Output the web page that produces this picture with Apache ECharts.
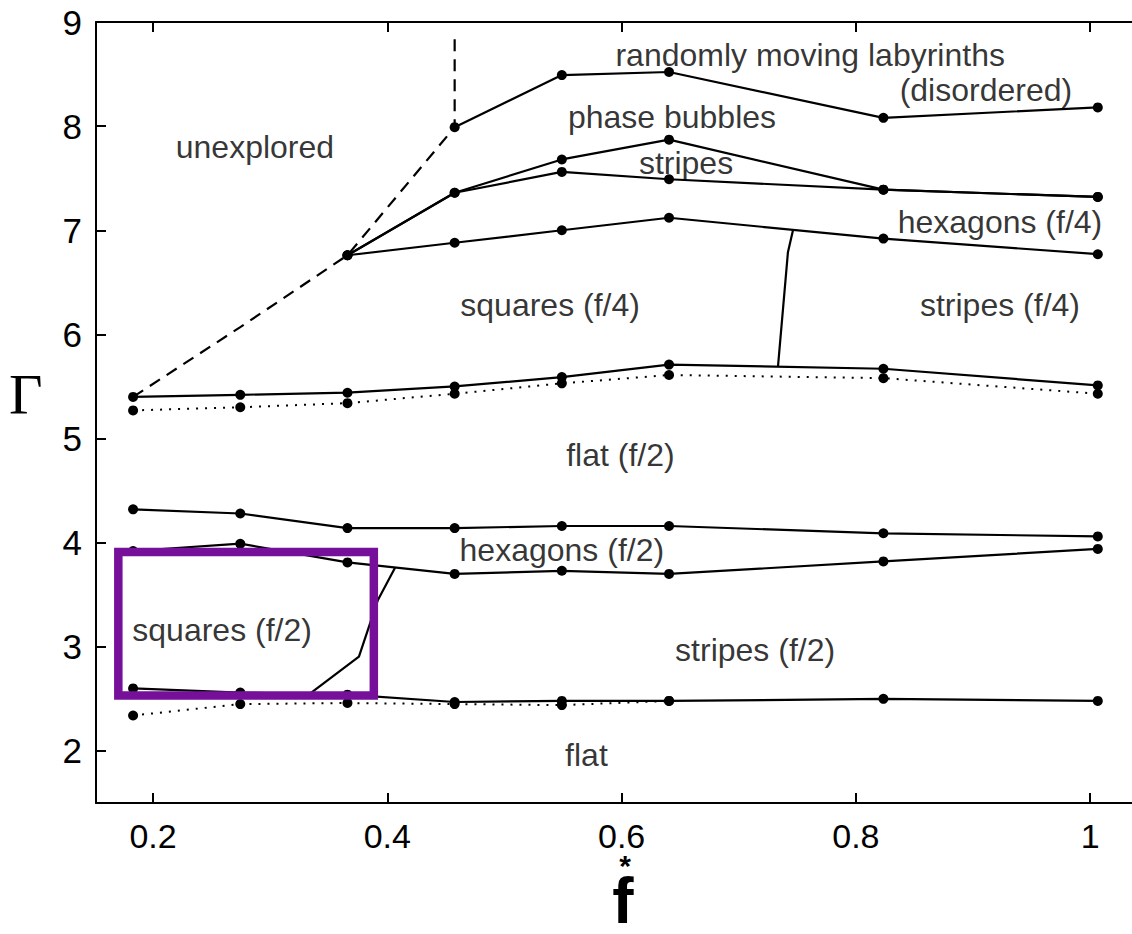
<!DOCTYPE html>
<html><head><meta charset="utf-8">
<script src="https://cdn.jsdelivr.net/npm/echarts@6/dist/echarts.min.js"></script>
<style>html,body{margin:0;padding:0;background:#fff}#c{width:1132px;height:934px}</style>
</head><body><div id="c"></div>
<script>
// ---- data ----
const xTicks = [0.2, 0.4, 0.6, 0.8, 1];
const yTicks = [2, 3, 4, 5, 6, 7, 8, 9];
const fStar = [0.183, 0.2745, 0.366, 0.4575, 0.549, 0.6405, 0.8235, 1.0065];
const fUpper = [0.366, 0.4575, 0.549, 0.6405, 0.8235, 1.0065];
const fLaby = [0.4575, 0.549, 0.6405, 0.8235, 1.0065];
const fFlatDot = [0.183, 0.2745, 0.366, 0.4575, 0.549, 0.6405];

const labyrinthY = [7.99, 8.49, 8.52, 8.08, 8.18];
const bubblesY = [6.76, 7.36, 7.68, 7.87, 7.39, 7.32];
const stripesLowY = [6.76, 7.36, 7.56, 7.49, 7.39, 7.32];
const hexF4LowY = [6.76, 6.88, 7.00, 7.12, 6.92, 6.77];
const squaresF4LowY = [5.40, 5.42, 5.44, 5.50, 5.59, 5.71, 5.67, 5.51];
const flatF2TopDotY = [5.27, 5.30, 5.34, 5.43, 5.53, 5.61, 5.58, 5.43];
const hexF2TopY = [4.32, 4.28, 4.14, 4.14, 4.16, 4.16, 4.09, 4.06];
const hexF2LowY = [3.92, 3.99, 3.81, 3.70, 3.73, 3.70, 3.82, 3.94];
const stripesF2LowY = [2.60, 2.56, 2.54, 2.47, 2.48, 2.48, 2.50, 2.48];
const flatTopDotY = [2.34, 2.45, 2.46, 2.45, 2.44, 2.48];

const unexploredX = [0.183, 0.2745, 0.366, 0.4575, 0.4575];
const unexploredY = [5.40, 6.07, 6.76, 7.99, 8.86];
const dividerF4X = [0.7463, 0.742, 0.7335];
const dividerF4Y = [7.00, 6.79, 5.69];
const dividerF2X = [0.4066, 0.392, 0.3758, 0.334];
const dividerF2Y = [3.76, 3.45, 2.905, 2.55];

const boxX = [0.1704, 0.3885, 0.3885, 0.1704, 0.1704];
const boxY = [3.91, 3.91, 2.532, 2.532, 3.91];

const regionNames = ['unexplored', 'randomly moving labyrinths', '(disordered)', 'phase bubbles', 'stripes',
  'hexagons (f/4)', 'squares (f/4)', 'stripes (f/4)', 'flat (f/2)', 'hexagons (f/2)', 'squares (f/2)',
  'stripes (f/2)', 'flat'];
const regionX = [0.287, 0.761, 0.911, 0.643, 0.655, 0.923, 0.539, 0.923, 0.599, 0.549, 0.259, 0.714, 0.570];
const regionY = [7.80, 8.683, 8.347, 8.088, 7.646, 7.079, 6.282, 6.282, 4.842, 3.93, 3.16, 2.97, 1.96];

// ---- build ----
const zip = (xs, ys) => xs.map((x, i) => [x, ys[i]]);
const FONT = 'Liberation Sans, Arial, Helvetica, sans-serif';

function solid(xs, ys) {
  return { type: 'line', data: zip(xs, ys), symbol: 'circle', symbolSize: 10,
    itemStyle: { color: '#000' }, lineStyle: { color: '#000', width: 2.2 }, z: 3, animation: false };
}
function dotted(xs, ys) {
  return { type: 'line', data: zip(xs, ys), symbol: 'circle', symbolSize: 10,
    itemStyle: { color: '#000' }, lineStyle: { color: '#000', width: 2, type: [2, 7] }, z: 2, animation: false };
}
function plain(xs, ys, type) {
  return { type: 'line', data: zip(xs, ys), symbol: 'none',
    lineStyle: { color: '#000', width: 2.2, type: type || 'solid' }, z: 2, animation: false };
}

const series = [
  plain(unexploredX, unexploredY, [12, 8]),
  solid(fLaby, labyrinthY),
  solid(fUpper, bubblesY),
  solid(fUpper, stripesLowY),
  solid(fUpper, hexF4LowY),
  solid(fStar, squaresF4LowY),
  dotted(fStar, flatF2TopDotY),
  solid(fStar, hexF2TopY),
  solid(fStar, hexF2LowY),
  solid(fStar, stripesF2LowY),
  dotted(fFlatDot, flatTopDotY),
  plain(dividerF4X, dividerF4Y),
  plain(dividerF2X, dividerF2Y),
  { type: 'scatter', symbolSize: 0, animation: false, z: 5,
    data: regionNames.map((n, i) => ({ name: n, value: [regionX[i], regionY[i]] })),
    label: { show: true, position: 'inside', formatter: '{b}', color: '#000', fontSize: 32, fontFamily: FONT } },
  { type: 'line', data: zip(boxX, boxY), symbol: 'none', z: 10, animation: false,
    lineStyle: { color: '#76109B', width: 8.5, join: 'miter', cap: 'square' } }
];

const xMin = 0.15134, xMax = 1.0357;
const chart = echarts.init(document.getElementById('c'), null, { renderer: 'svg' });
chart.setOption({
  backgroundColor: '#fff',
  animation: false,
  grid: { left: 96, top: 22, right: 0, bottom: 131, containLabel: false },
  xAxis: [
    { type: 'value', min: xMin, max: xMax, position: 'bottom',
      axisLine: { show: true, lineStyle: { color: '#000', width: 2 } },
      axisTick: { show: true, inside: true, length: 10, customValues: xTicks, lineStyle: { color: '#000', width: 2 } },
      axisLabel: { show: true, customValues: xTicks, color: '#000', fontSize: 34, fontFamily: FONT, margin: 16,
        lineHeight: 34, formatter: v => String(+v.toFixed(1)) },
      splitLine: { show: false } },
    { type: 'value', min: xMin, max: xMax, position: 'top',
      axisLine: { show: true, lineStyle: { color: '#000', width: 2 } },
      axisTick: { show: true, inside: true, length: 10, customValues: xTicks, lineStyle: { color: '#000', width: 2 } },
      axisLabel: { show: false }, splitLine: { show: false } }
  ],
  yAxis: [
    { type: 'value', min: 1.5, max: 9, position: 'left',
      axisLine: { show: true, lineStyle: { color: '#000', width: 2 } },
      axisTick: { show: true, inside: true, length: 10, customValues: yTicks, lineStyle: { color: '#000', width: 2 } },
      axisLabel: { show: true, customValues: yTicks, color: '#000', fontSize: 35, fontFamily: FONT, margin: 14,
        formatter: v => String(Math.round(v)) },
      splitLine: { show: false } }
  ],
  series: series,
  graphic: [
    { type: 'text', left: 9, top: 365, style: { text: 'Γ', font: '58px "Liberation Serif", serif', fill: '#000' } },
    { type: 'text', x: 625, y: 858, style: { text: '*', align: 'center', verticalAlign: 'top',
        fontSize: 30, fontWeight: 'bold', fontFamily: FONT, lineHeight: 14, fill: '#000' } },
    { type: 'text', x: 623, y: 874, style: { text: 'f', align: 'center', verticalAlign: 'top',
        fontSize: 64, fontWeight: 'bold', fontFamily: FONT, lineHeight: 54, fill: '#000' } }
  ]
});
</script>
</body></html>
